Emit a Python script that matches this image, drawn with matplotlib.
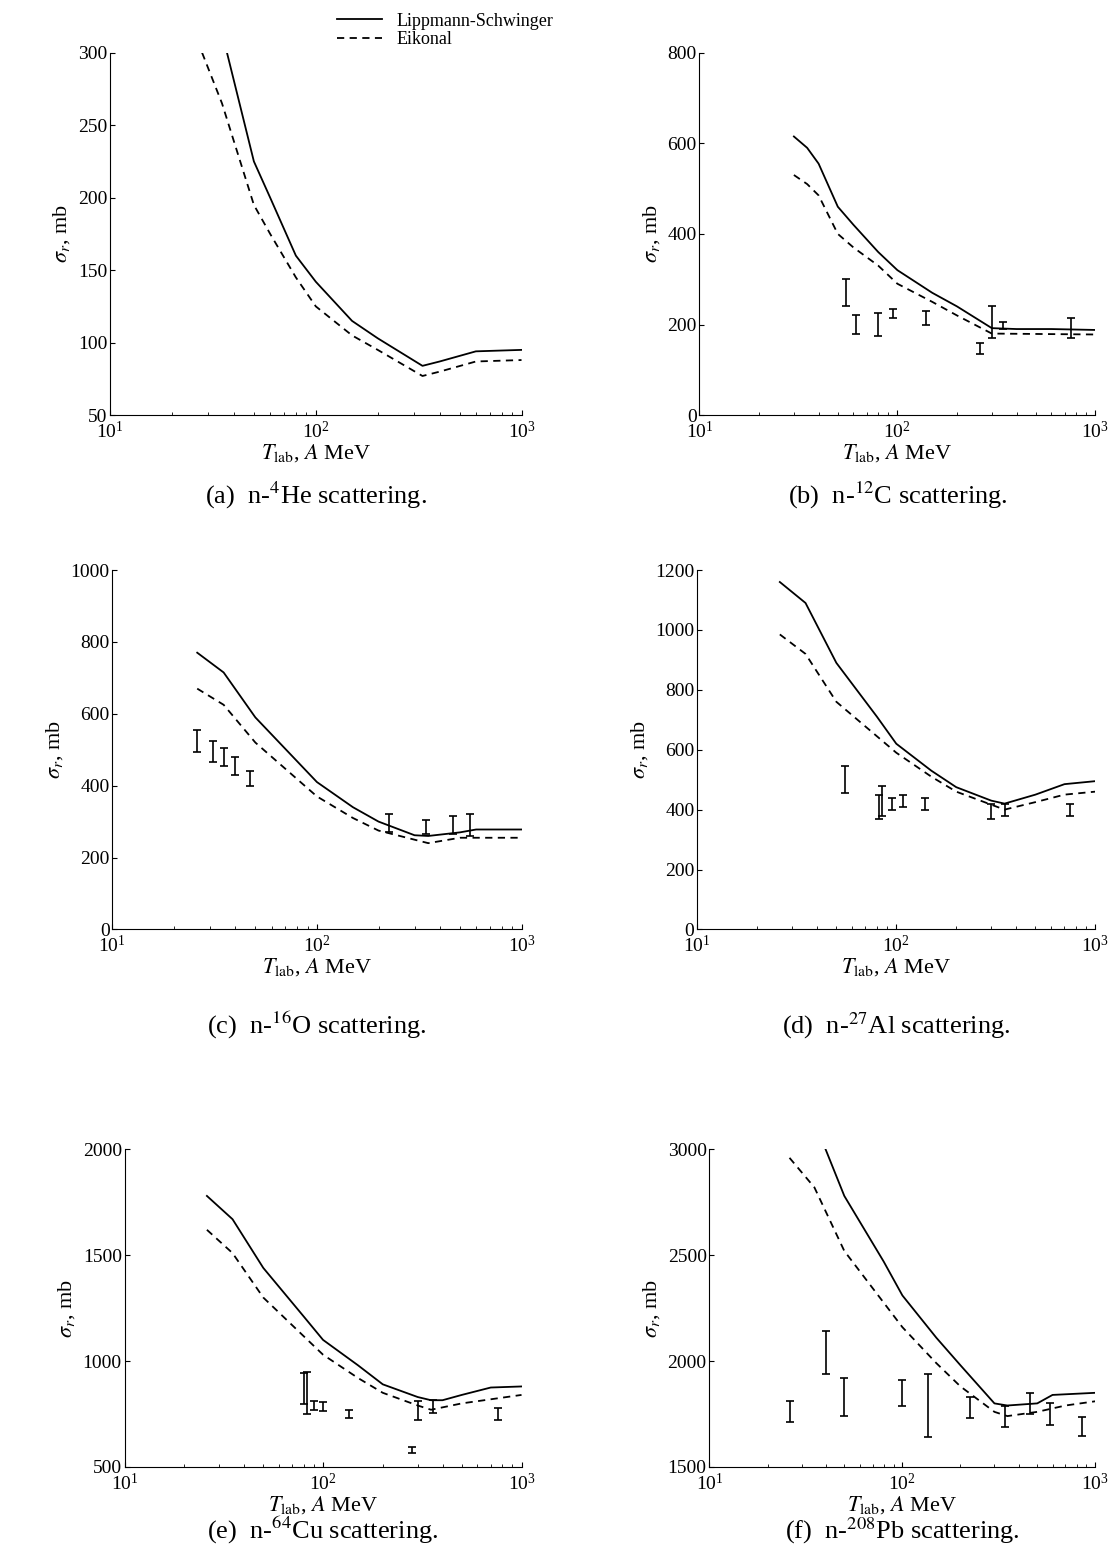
import numpy as np
import matplotlib
matplotlib.use("Agg")
import matplotlib.pyplot as plt

plt.rcParams['font.family'] = ['Liberation Serif', 'DejaVu Serif']
plt.rcParams['mathtext.fontset'] = 'stix'

# ---- data ----
a_ls_e = [37, 50, 60, 80, 100, 150, 200, 330, 400, 600, 1000]
a_ls_v = [300, 225, 200, 160, 142, 115, 103, 84, 87, 94, 95]
a_ek_e = [28, 35, 50, 60, 80, 100, 150, 200, 330, 400, 600, 1000]
a_ek_v = [300, 265, 195, 175, 145, 125, 105, 95, 77, 80, 87, 88]

b_ls_e = [30, 35, 40, 50, 60, 80, 100, 150, 200, 300, 400, 600, 1000]
b_ls_v = [615, 590, 555, 460, 420, 360, 320, 270, 240, 192, 190, 190, 188]
b_ek_e = [30, 35, 40, 50, 60, 80, 100, 150, 200, 300, 1000]
b_ek_v = [530, 510, 485, 400, 370, 330, 290, 250, 220, 180, 178]
b_x = [55, 62, 80, 95, 140, 260, 300, 340, 750]
b_y = [270, 200, 200, 225, 215, 148, 205, 197, 192]
b_err = [30, 20, 25, 10, 15, 12, 35, 8, 22]

c_ls_e = [26, 35, 50, 100, 150, 200, 300, 350, 500, 600, 1000]
c_ls_v = [770, 715, 590, 410, 340, 300, 262, 260, 270, 278, 278]
c_ek_e = [26, 35, 50, 100, 150, 200, 350, 500, 1000]
c_ek_v = [670, 625, 520, 370, 310, 275, 240, 255, 255]
c_x = [26, 31, 35, 40, 47, 225, 340, 460, 560]
c_y = [525, 495, 480, 455, 420, 295, 285, 290, 290]
c_err = [30, 30, 25, 25, 20, 25, 20, 25, 30]

d_ls_e = [26, 35, 50, 80, 100, 150, 200, 300, 350, 500, 700, 1000]
d_ls_v = [1160, 1090, 890, 710, 620, 530, 475, 430, 420, 450, 485, 495]
d_ek_e = [26, 35, 50, 100, 150, 200, 350, 500, 700, 1000]
d_ek_v = [985, 920, 760, 590, 510, 460, 400, 425, 450, 460]
d_x = [55, 82, 85, 95, 108, 140, 300, 350, 750]
d_y = [500, 410, 430, 420, 430, 420, 395, 400, 400]
d_err = [45, 40, 50, 20, 20, 20, 25, 20, 20]

e_ls_e = [26, 35, 50, 80, 100, 150, 200, 300, 350, 400, 500, 700, 1000]
e_ls_v = [1780, 1670, 1440, 1210, 1100, 980, 890, 830, 815, 815, 840, 875, 880]
e_ek_e = [26, 35, 50, 100, 150, 200, 300, 350, 500, 1000]
e_ek_v = [1620, 1510, 1300, 1030, 920, 850, 790, 770, 800, 840]
e_x = [80, 83, 90, 100, 135, 280, 300, 360, 760]
e_y = [870, 850, 790, 785, 750, 580, 765, 785, 750]
e_err = [75, 100, 20, 20, 20, 15, 45, 30, 30]

f_ls_e = [40, 50, 80, 100, 150, 200, 300, 350, 500, 600, 1000]
f_ls_v = [3000, 2780, 2470, 2310, 2110, 1980, 1800, 1790, 1800, 1840, 1850]
f_ek_e = [26, 35, 50, 100, 150, 200, 300, 350, 500, 700, 1000]
f_ek_v = [2960, 2820, 2520, 2160, 1990, 1880, 1760, 1740, 1760, 1790, 1810]
f_x = [26, 40, 50, 100, 135, 225, 340, 460, 580, 850]
f_y = [1760, 2040, 1830, 1850, 1790, 1780, 1740, 1800, 1750, 1690]
f_err = [50, 100, 90, 60, 150, 50, 50, 50, 50, 45]

panels = [
    ([0.099, 0.732, 0.370, 0.234], (50, 300), 50, a_ls_e, a_ls_v, a_ek_e, a_ek_v, None,
     "(a)  n-$^{4}$He scattering."),
    ([0.629, 0.732, 0.356, 0.234], (0, 800), 200, b_ls_e, b_ls_v, b_ek_e, b_ek_v, (b_x, b_y, b_err),
     "(b)  n-$^{12}$C scattering."),
    ([0.101, 0.400, 0.368, 0.232], (0, 1000), 200, c_ls_e, c_ls_v, c_ek_e, c_ek_v, (c_x, c_y, c_err),
     "(c)  n-$^{16}$O scattering."),
    ([0.627, 0.400, 0.358, 0.232], (0, 1200), 200, d_ls_e, d_ls_v, d_ek_e, d_ek_v, (d_x, d_y, d_err),
     "(d)  n-$^{27}$Al scattering."),
    ([0.112, 0.053, 0.357, 0.205], (500, 2000), 500, e_ls_e, e_ls_v, e_ek_e, e_ek_v, (e_x, e_y, e_err),
     "(e)  n-$^{64}$Cu scattering."),
    ([0.638, 0.053, 0.347, 0.205], (1500, 3000), 500, f_ls_e, f_ls_v, f_ek_e, f_ek_v, (f_x, f_y, f_err),
     "(f)  n-$^{208}$Pb scattering."),
]

fig = plt.figure(figsize=(11.12, 15.49), dpi=100)
caption_y = [0.670, 0.670, 0.328, 0.328, 0.002, 0.002]

for i, (pos, ylim, step, le, lv, ee, ev, data, cap) in enumerate(panels):
    ax = fig.add_axes(pos)
    l1, = ax.plot(le, lv, color='black', lw=1.3, label='Lippmann-Schwinger')
    l2, = ax.plot(ee, ev, color='black', lw=1.3, ls=(0, (4, 3)), label='Eikonal')
    if data is not None:
        ax.errorbar(data[0], data[1], yerr=data[2], fmt='none', ecolor='black',
                    elinewidth=1.2, capsize=3, capthick=1.2)
    ax.set_xscale('log')
    ax.set_xlim(10, 1000)
    ax.set_ylim(*ylim)
    ax.set_yticks(np.arange(ylim[0], ylim[1] + 1, step))
    for s in ['top', 'right']:
        ax.spines[s].set_visible(False)
    ax.tick_params(direction='in', which='both', labelsize=14, pad=2)
    ax.tick_params(axis='x', pad=4)
    ax.set_xlabel(r"$T_{\rm lab}$, $A$ MeV", fontsize=16, labelpad=0)
    ax.set_ylabel(r"$\sigma_r$, mb", fontsize=16)
    cx = pos[0] + pos[2] / 2
    fig.text(cx, caption_y[i], cap, ha='center', va='bottom', fontsize=19)
    if i == 0:
        fig.legend(handles=[l1, l2], loc='upper center', bbox_to_anchor=(0.40, 1.0),
                   frameon=False, fontsize=13, handlelength=2.5, borderpad=0.2,
                   labelspacing=0.1)

fig.savefig("out.png", dpi=100)
